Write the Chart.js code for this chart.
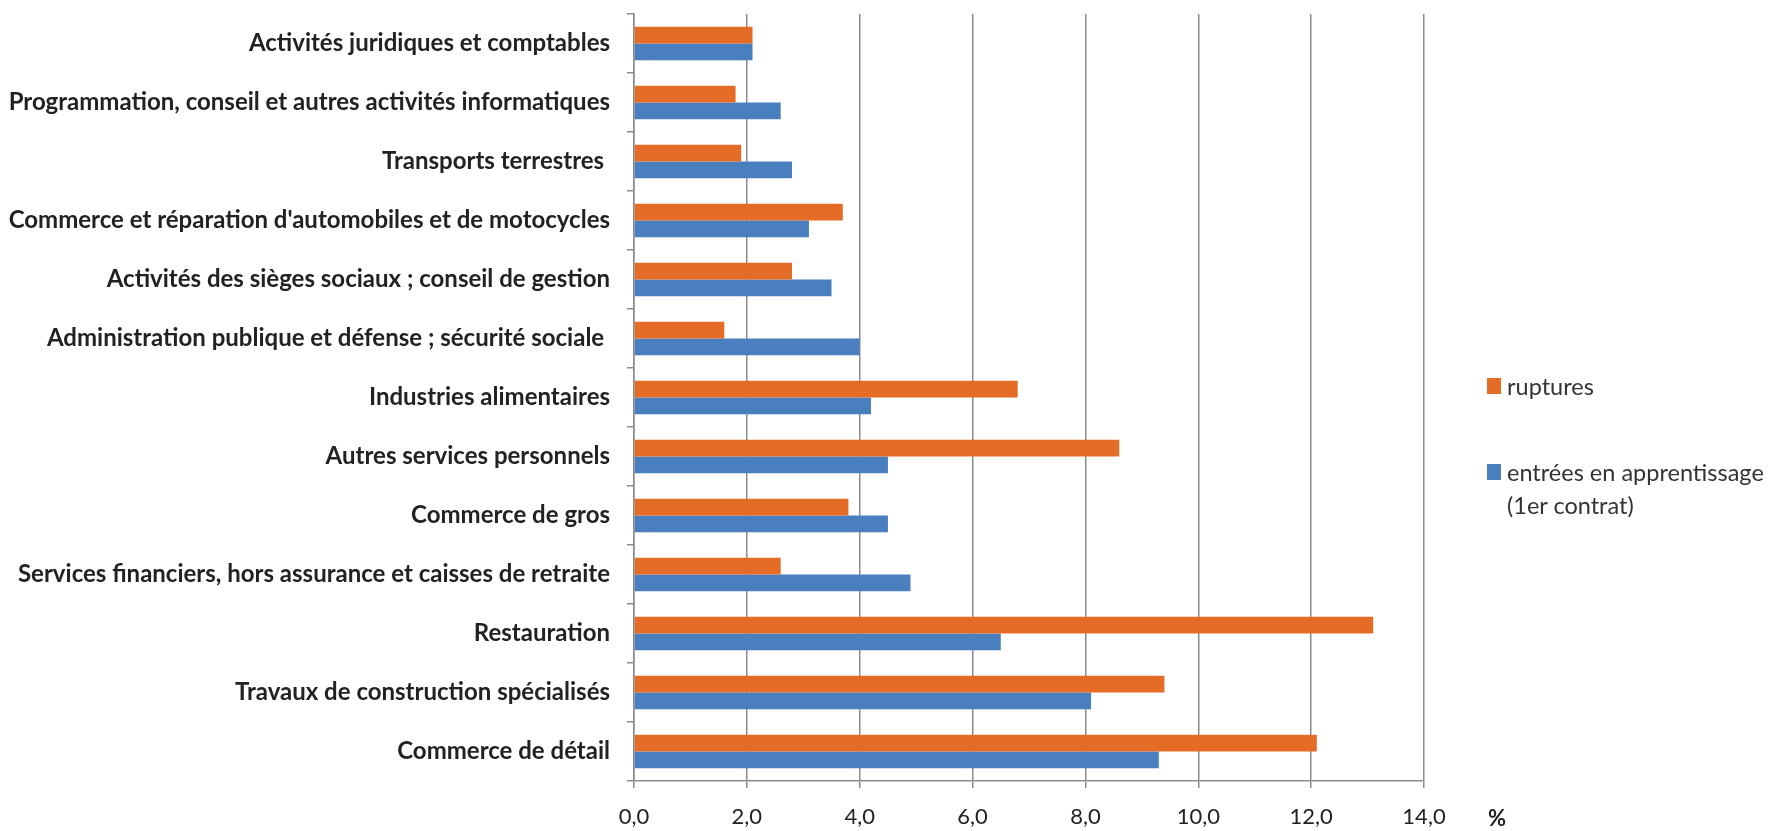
<!DOCTYPE html>
<html>
<head>
<meta charset="utf-8">
<script src="https://cdn.jsdelivr.net/npm/chart.js@4.4.1/dist/chart.umd.min.js"></script>
<style>
    html, body { margin: 0; padding: 0; background: #fff; }
    #wrap { position: relative; width: 1769px; height: 831px; }
    #legend { position: absolute; left: 1487px; top: 370px; font-family: Lato, "Open Sans", sans-serif; font-size: 23.5px; color: #333; }
    .leg-item { position: relative; padding-left: 20px; line-height: 33px; white-space: nowrap; }
    .leg-item .box { position: absolute; left: 0; top: 8px; width: 14px; height: 16px; }
</style>
</head>
<body>
<div id="wrap">
    <canvas id="chart" width="1769" height="831"></canvas>
    <div id="legend"></div>
</div>
<script>
// secteurs (du haut vers le bas)
const categories = [
    "Activités juridiques et comptables",
    "Programmation, conseil et autres activités informatiques",
    "Transports terrestres ",
    "Commerce et réparation d'automobiles et de motocycles",
    "Activités des sièges sociaux ; conseil de gestion",
    "Administration publique et défense ; sécurité sociale ",
    "Industries alimentaires",
    "Autres services personnels",
    "Commerce de gros",
    "Services financiers, hors assurance et caisses de retraite",
    "Restauration",
    "Travaux de construction spécialisés",
    "Commerce de détail"
];

const ruptures = [2.1, 1.8, 1.9, 3.7, 2.8, 1.6, 6.8, 8.6, 3.8, 2.6, 13.1, 9.4, 12.1];
const entrees = [2.1, 2.6, 2.8, 3.1, 3.5, 4.0, 4.2, 4.5, 4.5, 4.9, 6.5, 8.1, 9.3];

const seriesNames = ["ruptures", "entrées en apprentissage (1er contrat)"];
const seriesColors = ["#E46C26", "#4A7FBF"];

const xTicks = [0, 2, 4, 6, 8, 10, 12, 14];

const gridColor = "#8c8c8c";
const textColor = "#222222";

// signe % a droite de l'axe
const percentPlugin = {
    id: 'percentSign',
    afterDraw(chart) {
        const ctx = chart.ctx;
        const x = chart.scales.x;
        ctx.save();
        ctx.font = 'bold 22px Lato, "Open Sans", sans-serif';
        ctx.fillStyle = textColor;
        ctx.textAlign = 'center';
        ctx.textBaseline = 'middle';
        ctx.fillText('%', x.right + 73, x.top + 38);
        ctx.restore();
    }
};

const ctx = document.getElementById('chart').getContext('2d');
const chart = new Chart(ctx, {
    type: 'bar',
    data: {
        labels: categories,
        datasets: [{
            label: seriesNames[0],
            data: ruptures,
            backgroundColor: seriesColors[0],
            borderWidth: 0
        }, {
            label: seriesNames[1],
            data: entrees,
            backgroundColor: seriesColors[1],
            borderWidth: 0
        }]
    },
    options: {
        indexAxis: 'y',
        responsive: false,
        animation: false,
        layout: {
            padding: { top: 14, right: 345, bottom: 0, left: 0 }
        },
        categoryPercentage: 0.566,
        barPercentage: 1.0,
        plugins: {
            legend: { display: false },
            tooltip: { enabled: false }
        },
        scales: {
            x: {
                min: 0,
                max: 14,
                afterBuildTicks(scale) {
                    scale.ticks = xTicks.map(v => ({ value: v }));
                },
                afterFit(scale) {
                    scale.height = 50;
                },
                grid: {
                    color: gridColor,
                    lineWidth: 1.5,
                    tickLength: 7,
                    drawOnChartArea: true
                },
                border: { color: gridColor, width: 1.5 },
                ticks: {
                    color: textColor,
                    padding: 16,
                    maxRotation: 0,
                    font: { family: 'Lato, "Open Sans", sans-serif', size: 22 },
                    callback: (v) => Number(v).toFixed(1).replace('.', ',')
                }
            },
            y: {
                afterFit(scale) {
                    scale.width = 634;
                    scale.paddingTop = 0;
                    scale.paddingBottom = 0;
                },
                grid: {
                    color: gridColor,
                    lineWidth: 1.5,
                    tickLength: 7,
                    drawOnChartArea: false,
                    offset: true
                },
                border: { color: gridColor, width: 1.5 },
                ticks: {
                    color: textColor,
                    padding: 17,
                    autoSkip: false,
                    font: { family: 'Lato, "Open Sans", sans-serif', size: 24, weight: 'bold' }
                }
            }
        }
    },
    plugins: [percentPlugin]
});

// legende
const legend = document.getElementById('legend');
const legendLines = [["ruptures"], ["entrées en apprentissage", "(1er contrat)"]];
legendLines.forEach((lines, i) => {
    const item = document.createElement('div');
    item.className = 'leg-item';
    item.style.marginBottom = i === 0 ? '53px' : '0';
    item.innerHTML = '<span class="box" style="background:' + seriesColors[i] + '"></span>' + lines.join('<br>');
    legend.appendChild(item);
});
</script>
</body>
</html>
